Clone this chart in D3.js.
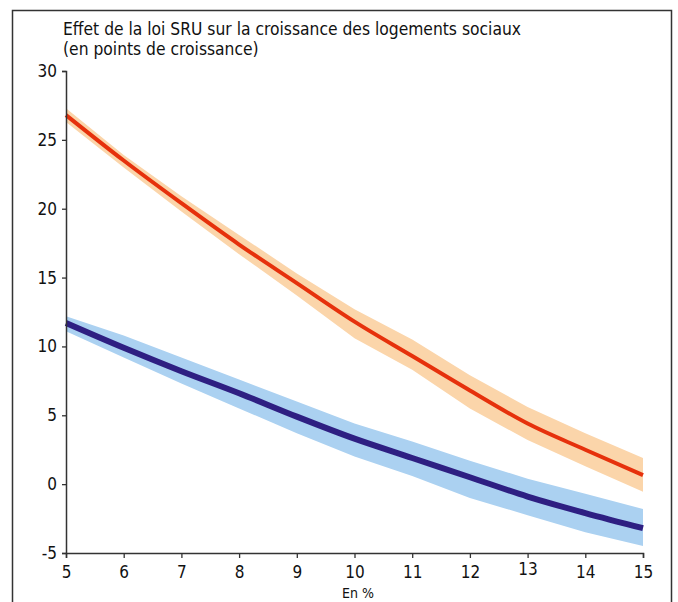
<!DOCTYPE html>
<html><head><meta charset="utf-8">
<script src="https://cdn.jsdelivr.net/npm/d3@7"></script>
<style>
html,body{margin:0;padding:0;background:#fff;}
svg{display:block;}
text{font-family:"DejaVu Sans Condensed","Liberation Sans Narrow",sans-serif;fill:#111;}
</style></head><body>
<svg id="chart" width="678" height="602"></svg>
<script>
const xValues = [5, 6, 7, 8, 9, 10, 11, 12, 13, 14, 15];
const redMid   = [26.8, 23.5, 20.4, 17.4, 14.6, 11.8, 9.3, 6.8, 4.4, 2.5, 0.65];
const redHigh  = [27.3, 23.9, 20.9, 18.1, 15.3, 12.7, 10.5, 7.9, 5.6, 3.7, 1.9];
const redLow   = [26.3, 23.0, 19.8, 16.7, 13.7, 10.6, 8.3, 5.5, 3.2, 1.3, -0.55];
const blueMid  = [11.7, 9.9, 8.2, 6.6, 4.9, 3.3, 1.9, 0.5, -0.9, -2.1, -3.2];
const blueHigh = [12.2, 10.8, 9.2, 7.6, 6.0, 4.4, 3.1, 1.7, 0.4, -0.7, -1.8];
const blueLow  = [11.1, 9.2, 7.3, 5.5, 3.7, 2.0, 0.6, -1.0, -2.25, -3.5, -4.5];
const yTicks = [-5, 0, 5, 10, 15, 20, 25, 30];
const xTicks = [5, 6, 7, 8, 9, 10, 11, 12, 13, 14, 15];
const titleLines = ["Effet de la loi SRU sur la croissance des logements sociaux", "(en points de croissance)"];
const xLabel = "En %";

const svg = d3.select("#chart");
const FONT = '"DejaVu Sans Condensed","Liberation Sans Narrow",sans-serif';
// frame
svg.append("path").attr("d","M12.5,610 V10.5 H671.5 V610")
  .attr("fill","none").attr("stroke","#333").attr("stroke-width",1.5);

const x = d3.scaleLinear().domain([5,15]).range([66,643]);
const y = d3.scaleLinear().domain([-5,30]).range([553,71]);

const band = (lo, hi) => d3.area().x((d,i)=>x(xValues[i])).y0((d,i)=>y(lo[i])).y1((d,i)=>y(hi[i]));
const line = arr => d3.line().curve(d3.curveMonotoneX).x((d,i)=>x(xValues[i])).y((d,i)=>y(arr[i]));

svg.append("path").attr("d", band(redLow, redHigh)(xValues)).attr("fill","#fbd5aa");
svg.append("path").attr("d", band(blueLow, blueHigh)(xValues)).attr("fill","#abd1f1");
svg.append("path").attr("d", line(redMid)(xValues)).attr("fill","none").attr("stroke","#e6310c").attr("stroke-width",4);
svg.append("path").attr("d", line(blueMid)(xValues)).attr("fill","none").attr("stroke","#2e1f82").attr("stroke-width",6);

// axes
const fmt = d => String(d);
const yAxis = svg.append("g").attr("transform","translate(66,0)")
  .call(d3.axisLeft(y).tickValues(yTicks).tickSize(4).tickPadding(5).tickFormat(fmt));
const xAxis = svg.append("g").attr("transform","translate(0,553)")
  .call(d3.axisBottom(x).tickValues(xTicks).tickSize(5).tickPadding(8).tickFormat(fmt));
[yAxis, xAxis].forEach(g => {
  g.select(".domain").attr("stroke","#333").attr("stroke-width",1.5);
  g.selectAll(".tick line").attr("stroke","#333").attr("stroke-width",1.3);
  g.selectAll("text").attr("font-size",17).attr("fill","#111").style("font-family",FONT);
});
xAxis.selectAll(".tick text").filter(d => d === 13).attr("dy","0.5em");

// title
svg.append("text").attr("x",63).attr("y",35).attr("font-size",17.3)
  .selectAll("tspan").data(titleLines).join("tspan")
  .attr("x",63).attr("dy",(d,i)=> i===0 ? 0 : 19.5).text(d=>d);

svg.append("text").attr("x",358).attr("y",598).attr("text-anchor","middle").attr("font-size",14).text(xLabel);
</script>
</body></html>
